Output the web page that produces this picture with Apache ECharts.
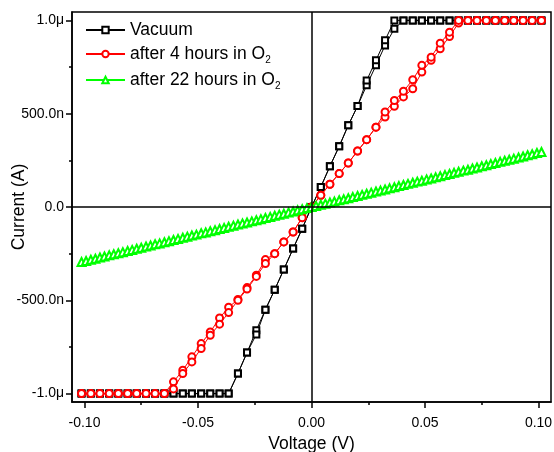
<!DOCTYPE html>
<html><head><meta charset="utf-8">
<script src="https://cdn.jsdelivr.net/npm/echarts@6/dist/echarts.min.js"></script>
<style>html,body{margin:0;padding:0;background:#fff}#c{width:554px;height:452px}</style>
</head><body><div id="c"></div>
<script>
// Voltage grid (V) shared by the Vacuum and 4h sweeps
const voltage = [-0.1013,-0.0972,-0.0932,-0.0891,-0.0851,-0.0810,-0.0770,-0.0729,-0.0689,-0.0648,
  -0.0608,-0.0567,-0.0527,-0.0486,-0.0446,-0.0405,-0.0365,-0.0324,-0.0284,-0.0243,
  -0.0203,-0.0162,-0.0122,-0.0081,-0.0041,0,0.0041,0.0081,0.0122,0.0162,
  0.0203,0.0243,0.0284,0.0324,0.0365,0.0405,0.0446,0.0486,0.0527,0.0567,
  0.0608,0.0648,0.0689,0.0729,0.0770,0.0810,0.0851,0.0891,0.0932,0.0972,0.1013];
// Current in microamps
const vacuumFwd = [-1,-1,-1,-1,-1,-1,-1,-1,-1,-1,-1,-1,-1,-1,-1,-1,-1,
  -0.892,-0.780,-0.660,-0.550,-0.443,-0.335,-0.223,-0.116,0,
  0.107,0.218,0.325,0.438,0.541,0.652,0.759,0.866,0.955,
  1,1,1,1,1,1,1,1,1,1,1,1,1,1,1,1];
const vacuumRev = [-1,-1,-1,-1,-1,-1,-1,-1,-1,-1,-1,-1,-1,-1,-1,-1,-1,
  -0.892,-0.780,-0.683,-0.550,-0.443,-0.335,-0.223,-0.116,0,
  0.107,0.218,0.325,0.438,0.541,0.678,0.786,0.893,1,
  1,1,1,1,1,1,1,1,1,1,1,1,1,1,1,1];
const o2h4Fwd = [-1,-1,-1,-1,-1,-1,-1,-1,-1,-1,
  -0.937,-0.875,-0.803,-0.732,-0.670,-0.595,-0.537,-0.496,-0.432,-0.366,-0.282,-0.250,-0.187,-0.134,-0.057,0,
  0.063,0.122,0.179,0.236,0.300,0.361,0.428,0.482,0.540,0.590,0.634,0.723,0.786,0.848,0.914,0.986,
  1,1,1,1,1,1,1,1,1];
const o2h4Rev = [-1,-1,-1,-1,-1,-1,-1,-1,-1,-1,
  -0.975,-0.892,-0.830,-0.758,-0.687,-0.628,-0.566,-0.500,-0.440,-0.372,-0.303,-0.250,-0.187,-0.134,-0.057,0,
  0.063,0.122,0.179,0.236,0.300,0.361,0.428,0.509,0.571,0.620,0.682,0.759,0.803,0.878,0.937,1,
  1,1,1,1,1,1,1,1,1];
const greenVoltage = [-0.1013,-0.0993,-0.0972,-0.0952,-0.0932,-0.0912,-0.0891,-0.0871,-0.0851,-0.0831,
  -0.0810,-0.0790,-0.0770,-0.0750,-0.0729,-0.0709,-0.0689,-0.0669,-0.0648,-0.0628,
  -0.0608,-0.0588,-0.0567,-0.0547,-0.0527,-0.0507,-0.0486,-0.0466,-0.0446,-0.0425,
  -0.0405,-0.0385,-0.0365,-0.0344,-0.0324,-0.0304,-0.0284,-0.0263,-0.0243,-0.0223,
  -0.0203,-0.0182,-0.0162,-0.0142,-0.0122,-0.0101,-0.0081,-0.0061,-0.0041,-0.0020,0,
  0.0020,0.0041,0.0061,0.0081,0.0101,0.0122,0.0142,0.0162,0.0182,0.0203,
  0.0223,0.0243,0.0263,0.0284,0.0304,0.0324,0.0344,0.0365,0.0385,0.0405,
  0.0425,0.0446,0.0466,0.0486,0.0507,0.0527,0.0547,0.0567,0.0588,0.0608,
  0.0628,0.0648,0.0669,0.0689,0.0709,0.0729,0.0750,0.0770,0.0790,0.0810,
  0.0831,0.0851,0.0871,0.0891,0.0912,0.0932,0.0952,0.0972,0.0993,0.1013];
const o2h22 = [-0.295,-0.289,-0.283,-0.277,-0.271,-0.265,-0.259,-0.253,-0.248,-0.242,
  -0.236,-0.230,-0.224,-0.218,-0.212,-0.206,-0.200,-0.195,-0.189,-0.183,
  -0.177,-0.171,-0.165,-0.159,-0.153,-0.148,-0.141,-0.136,-0.130,-0.124,
  -0.118,-0.112,-0.106,-0.100,-0.094,-0.088,-0.083,-0.077,-0.071,-0.065,
  -0.059,-0.053,-0.047,-0.041,-0.036,-0.029,-0.024,-0.018,-0.012,-0.006,0,
  0.006,0.012,0.018,0.024,0.029,0.036,0.041,0.047,0.053,0.059,
  0.065,0.071,0.077,0.083,0.088,0.094,0.100,0.106,0.112,0.118,
  0.124,0.130,0.136,0.141,0.148,0.153,0.159,0.165,0.171,0.177,
  0.183,0.189,0.195,0.200,0.206,0.212,0.218,0.224,0.230,0.236,
  0.242,0.248,0.253,0.259,0.265,0.271,0.277,0.283,0.289,0.295];
const seriesNames = ['Vacuum', 'after 4 hours in O2', 'after 22 hours in O2'];
const xTickValues = [-0.1, -0.05, 0, 0.05, 0.1];
const xTickLabels = ['-0.10', '-0.05', '0.00', '0.05', '0.10'];
const xMinorTicks = [-0.075, -0.025, 0.025, 0.075];
const yTickValues = [-1, -0.5, 0, 0.5, 1];
const yTickLabels = ['-1.0\u03bc', '-500.0n', '0.0', '500.0n', '1.0\u03bc'];
const yMinorTicks = [-0.75, -0.25, 0.25, 0.75];

function sweep(fwd, rev) {
  const d = [];
  for (let i = 0; i < voltage.length; i++) d.push([voltage[i], fwd[i]]);
  for (let i = voltage.length - 1; i >= 0; i--) d.push([voltage[i], rev[i]]);
  return d;
}
const greenData = greenVoltage.map((v, i) => [v, o2h22[i]]);
function lookup(vals, labels, v) {
  for (let i = 0; i < vals.length; i++) if (Math.abs(vals[i] - v) < 1e-9) return labels[i];
  return '';
}
const FONT = 'Liberation Sans, Arial, sans-serif';
const XMIN = -0.1055, XMAX = 0.1055, YMIN = -1.045, YMAX = 1.045;

const chart = echarts.init(document.getElementById('c'), null, {renderer: 'canvas'});
chart.setOption({
  animation: false,
  backgroundColor: '#fff',
  textStyle: {fontFamily: FONT},
  grid: {left: 72, right: 3, top: 12, bottom: 50, show: true, borderColor: '#000', borderWidth: 1.5,
    containLabel: false, outerBoundsMode: 'none'},
  legend: {
    data: seriesNames, orient: 'vertical', left: 80, top: 16, itemWidth: 39, itemHeight: 8, itemGap: 6,
    textStyle: {fontSize: 17.5, color: '#000', fontFamily: FONT,
      rich: {sub: {fontSize: 10, fontFamily: FONT, color: '#000', padding: [12, 0, 0, 0]}}},
    formatter: n => n.endsWith('O2') ? n.slice(0, -1) + '{sub|2}' : n
  },
  xAxis: [{
    type: 'value', min: XMIN, max: XMAX, position: 'bottom',
    name: 'Voltage (V)', nameLocation: 'middle', nameGap: 33, nameMoveOverlap: false,
    nameTextStyle: {fontSize: 17.5, color: '#000', fontFamily: FONT},
    axisLine: {show: true, onZero: false, lineStyle: {color: '#000', width: 1.5}},
    axisTick: {show: true, customValues: xTickValues, length: 6, lineStyle: {color: '#000', width: 1.5}},
    axisLabel: {customValues: xTickValues, formatter: v => lookup(xTickValues, xTickLabels, v), fontSize: 14, color: '#000', margin: 14, fontFamily: FONT},
    splitLine: {show: false}
  }, {
    type: 'value', min: XMIN, max: XMAX, position: 'bottom',
    axisLine: {show: false, onZero: false},
    axisTick: {show: true, customValues: xMinorTicks, length: 3, lineStyle: {color: '#000', width: 1.5}},
    axisLabel: {show: false}, splitLine: {show: false}
  }],
  yAxis: [{
    type: 'value', min: YMIN, max: YMAX, position: 'left',
    name: 'Current (A)', nameLocation: 'middle', nameGap: 44, nameRotate: 90, nameMoveOverlap: false,
    nameTextStyle: {fontSize: 17.5, color: '#000', fontFamily: FONT},
    axisLine: {show: true, onZero: false, lineStyle: {color: '#000', width: 1.5}},
    axisTick: {show: true, customValues: yTickValues, length: 6, lineStyle: {color: '#000', width: 1.5}},
    axisLabel: {customValues: yTickValues, formatter: v => lookup(yTickValues, yTickLabels, v), fontSize: 14, color: '#000', margin: 8, fontFamily: FONT},
    splitLine: {show: false}
  }, {
    type: 'value', min: YMIN, max: YMAX, position: 'left',
    axisLine: {show: false, onZero: false},
    axisTick: {show: true, customValues: yMinorTicks, length: 3, lineStyle: {color: '#000', width: 1.5}},
    axisLabel: {show: false}, splitLine: {show: false}
  }],
  series: [{
    type: 'line', name: '__axes', data: [], silent: true, z: 1,
    markLine: {silent: true, symbol: 'none', animation: false, label: {show: false},
      lineStyle: {color: '#000', width: 1.5, type: 'solid'}, emphasis: {disabled: true},
      data: [{xAxis: 0}, {yAxis: 0}]}
  }, {
    type: 'line', name: seriesNames[0], data: sweep(vacuumFwd, vacuumRev), z: 2,
    symbol: 'rect', symbolSize: 6, showAllSymbol: true,
    lineStyle: {color: '#000', width: 1},
    itemStyle: {color: '#fff', borderColor: '#000', borderWidth: 2}
  }, {
    type: 'line', name: seriesNames[1], data: sweep(o2h4Fwd, o2h4Rev), z: 3,
    symbol: 'circle', symbolSize: 7, showAllSymbol: true,
    lineStyle: {color: '#ff0000', width: 1},
    itemStyle: {color: '#fff', borderColor: '#ff0000', borderWidth: 2}
  }, {
    type: 'line', name: seriesNames[2], data: greenData, z: 4,
    symbol: 'triangle', symbolSize: 8, showAllSymbol: true,
    lineStyle: {color: '#00ff00', width: 1},
    itemStyle: {color: '#fff', borderColor: '#00ff00', borderWidth: 2}
  }]
});
</script></body></html>
